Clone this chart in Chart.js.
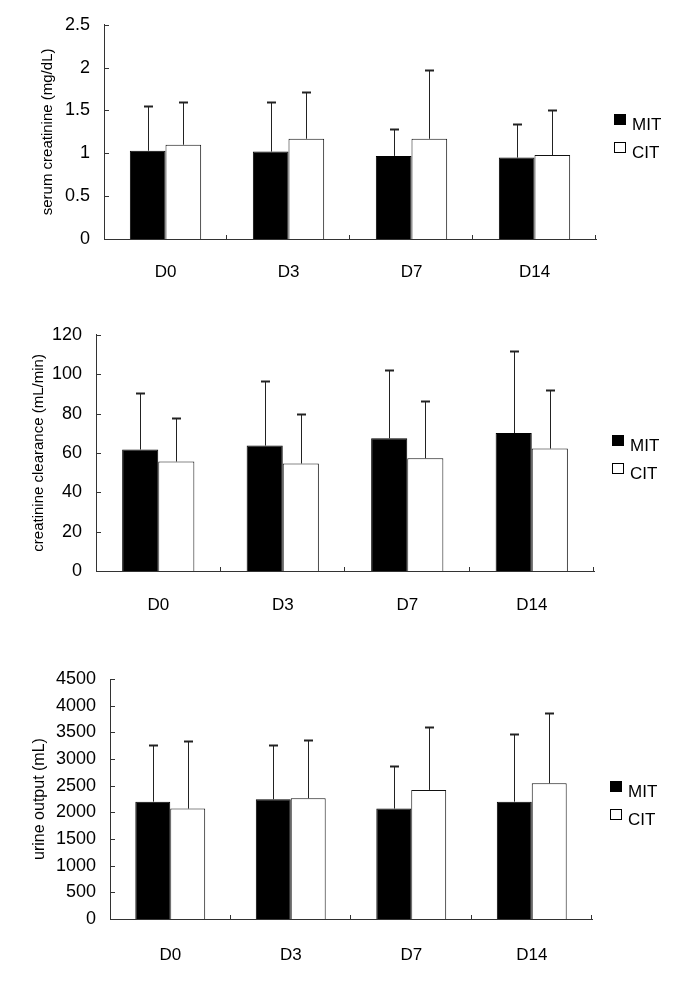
<!DOCTYPE html>
<html>
<head>
<meta charset="utf-8">
<script src="https://cdn.jsdelivr.net/npm/chart.js@4.4.0/dist/chart.umd.min.js"></script>
<style>
    body { margin: 0; background: #fff; }
    .panneau { position: absolute; left: 0; width: 685px; }
</style>
</head>
<body>
<div class="panneau" style="top:0px;height:300px"><canvas id="graphique-creatinine"></canvas></div>
<div class="panneau" style="top:310px;height:320px"><canvas id="graphique-clairance"></canvas></div>
<div class="panneau" style="top:650px;height:339px"><canvas id="graphique-urine"></canvas></div>
<script>
// Categories and groups
const jours = ["D0", "D3", "D7", "D14"];
const groupes = ["MIT", "CIT"];

// Serum creatinine (mg/dL): means and SD
const creatMIT = [1.03, 1.02, 0.97, 0.95];
const creatMITsd = [0.52, 0.58, 0.31, 0.39];
const creatCIT = [1.10, 1.17, 1.17, 0.98];
const creatCITsd = [0.50, 0.55, 0.80, 0.52];
const creatTicks = [0, 0.5, 1, 1.5, 2, 2.5];

// Creatinine clearance (mL/min)
const clairMIT = [61.7, 63.7, 67.4, 70.1];
const clairMITsd = [28.9, 32.8, 34.8, 41.5];
const clairCIT = [55.6, 54.6, 57.3, 62.2];
const clairCITsd = [22.0, 25.2, 29.1, 29.6];
const clairTicks = [0, 20, 40, 60, 80, 100, 120];

// Urine output (mL)
const urineMIT = [2200, 2245, 2070, 2200];
const urineMITsd = [1055, 1020, 805, 1262];
const urineCIT = [2070, 2265, 2420, 2545];
const urineCITsd = [1262, 1086, 1175, 1310];
const urineTicks = [0, 500, 1000, 1500, 2000, 2500, 3000, 3500, 4000, 4500];

const police = "'Liberation Sans', Arial, sans-serif";

// Error bars (mean + SD) drawn on top of each bar
const barresErreur = {
    id: "barresErreur",
    afterDatasetsDraw(chart) {
        const ctx = chart.ctx;
        const echelleY = chart.scales.y;
        ctx.save();
        ctx.strokeStyle = "#222";
        ctx.lineWidth = 1;
        chart.data.datasets.forEach((dataset, i) => {
            const meta = chart.getDatasetMeta(i);
            meta.data.forEach((barre, j) => {
                const haut = Math.round(echelleY.getPixelForValue(dataset.data[j] + dataset.sd[j])) + 0.5;
                const x = Math.round(barre.x) + 0.5;
                ctx.beginPath();
                ctx.moveTo(x, barre.y);
                ctx.lineTo(x, haut);
                ctx.stroke();
                // cap
                ctx.lineWidth = 2;
                ctx.beginPath();
                ctx.moveTo(x - 4.5, haut);
                ctx.lineTo(x + 4.5, haut);
                ctx.stroke();
                ctx.lineWidth = 1;
            });
        });
        ctx.restore();
    }
};

// Small inward tick marks on both axes
const petitsTraits = {
    id: "petitsTraits",
    afterDraw(chart) {
        const ctx = chart.ctx;
        const ex = chart.scales.x;
        const ey = chart.scales.y;
        ctx.save();
        ctx.strokeStyle = "#333";
        ctx.lineWidth = 1;
        ctx.beginPath();
        ey.ticks.forEach(t => {
            if (t.value === 0) return;
            const py = Math.round(ey.getPixelForValue(t.value)) + 0.5;
            ctx.moveTo(ey.right, py);
            ctx.lineTo(ey.right + 5, py);
        });
        const n = ex.ticks.length;
        const pas = ex.width / n;
        for (let i = 1; i <= n; i++) {
            const px = Math.round(ex.left + i * pas) - 0.5;
            ctx.moveTo(px, ex.top);
            ctx.lineTo(px, ex.top - 4);
        }
        ctx.stroke();
        ctx.restore();
    }
};

// Legend on the right of the plot
const legende = {
    id: "legende",
    afterDraw(chart) {
        const ctx = chart.ctx;
        const zone = chart.chartArea;
        const x0 = Math.round(zone.right + 18);
        const milieu = (zone.top + zone.bottom) / 2;
        ctx.save();
        chart.data.datasets.forEach((ds, i) => {
            const y = Math.round(milieu - 18 + i * 28);
            ctx.fillStyle = ds.backgroundColor;
            ctx.fillRect(x0, y, 12, 11);
            ctx.strokeStyle = "#000";
            ctx.lineWidth = 1;
            ctx.strokeRect(x0 + 0.5, y + 0.5, 11, 10);
            ctx.fillStyle = "#000";
            ctx.font = "17px " + police;
            ctx.textBaseline = "middle";
            ctx.textAlign = "left";
            ctx.fillText(ds.label, x0 + 18, y + 11);
        });
        ctx.restore();
    }
};

function creerGraphique(id, titre, mit, mitSd, cit, citSd, graduations, reglages) {
    const data = {
        labels: jours,
        datasets: [{
            label: groupes[0],
            data: mit,
            sd: mitSd,
            backgroundColor: "#000",
            borderColor: "#000",
            borderWidth: 1
        }, {
            label: groupes[1],
            data: cit,
            sd: citSd,
            backgroundColor: "#fff",
            borderColor: "#111",
            borderWidth: 1
        }]
    };
    const config = {
        type: "bar",
        data: data,
        options: {
            responsive: true,
            maintainAspectRatio: false,
            animation: false,
            categoryPercentage: 0.58,
            barPercentage: 1.0,
            layout: {
                padding: { top: reglages.haut, right: reglages.droite, bottom: reglages.bas, left: 0 }
            },
            plugins: {
                legend: { display: false },
                tooltip: { enabled: false }
            },
            scales: {
                x: {
                    grid: { display: false, drawTicks: false },
                    border: { color: "#333", width: 1 },
                    ticks: { color: "#000", font: { family: police, size: 17 }, padding: reglages.padX },
                    afterFit: (scale) => { scale.height = 50; }
                },
                y: {
                    min: graduations[0],
                    max: graduations[graduations.length - 1],
                    grid: { display: false, drawTicks: false },
                    border: { color: "#333", width: 1 },
                    ticks: {
                        color: "#000",
                        font: { family: police, size: 18 },
                        padding: 14,
                        callback: (v) => String(v)
                    },
                    afterBuildTicks: (scale) => { scale.ticks = graduations.map(v => ({ value: v })); },
                    afterFit: (scale) => { scale.width = reglages.largeurY; },
                    title: {
                        display: true,
                        text: titre,
                        color: "#000",
                        font: { family: police, size: reglages.taille },
                        padding: { top: reglages.padTitre, bottom: 0 }
                    }
                }
            }
        },
        plugins: [barresErreur, petitsTraits, legende]
    };
    return new Chart(document.getElementById(id), config);
}

creerGraphique("graphique-creatinine", "serum creatinine (mg/dL)",
    creatMIT, creatMITsd, creatCIT, creatCITsd, creatTicks,
    { haut: 22, droite: 89, bas: 11, largeurY: 104, padX: 23, taille: 15, padTitre: 39 });

creerGraphique("graphique-clairance", "creatinine clearance (mL/min)",
    clairMIT, clairMITsd, clairCIT, clairCITsd, clairTicks,
    { haut: 23, droite: 91, bas: 9, largeurY: 96, padX: 24, taille: 15, padTitre: 30 });

creerGraphique("graphique-urine", "urine output (mL)",
    urineMIT, urineMITsd, urineCIT, urineCITsd, urineTicks,
    { haut: 29, droite: 93, bas: 20, largeurY: 110, padX: 26, taille: 16, padTitre: 30 });
</script>
</body>
</html>
